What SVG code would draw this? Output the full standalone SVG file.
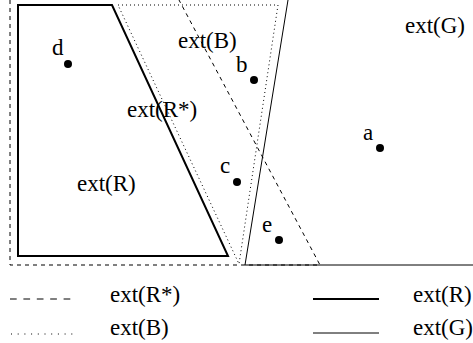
<svg xmlns="http://www.w3.org/2000/svg" width="473" height="343" viewBox="0 0 473 343">
<style>
text{font-family:"Liberation Serif","Times New Roman",serif;font-size:23px;fill:#000}
.thick{fill:none;stroke:#000;stroke-width:2}
.thin{fill:none;stroke:#000;stroke-width:1}
.dash{fill:none;stroke:#000;stroke-width:1;stroke-dasharray:4 4}
.dot{fill:none;stroke:#000;stroke-width:1;stroke-dasharray:1 3}
.pt{fill:#000}
</style>
<rect width="473" height="343" fill="#fff"/>
<g id="regions">
<path id="R" class="thick" d="M18,5 L112,5 L228,256 L18,256 Z"/>
<path id="Rstar" class="dash" d="M10,0 L10,265 L320,265 L179,0"/>
<path id="B" class="dot" d="M118,5 L278,5 L239,264 Z"/>
<path id="G" class="thin" d="M288,0 L245,265 L473,265"/>
</g>
<g id="points">
<circle class="pt" cx="68" cy="64" r="4"/>
<circle class="pt" cx="254" cy="80" r="4"/>
<circle class="pt" cx="237" cy="182" r="4"/>
<circle class="pt" cx="380" cy="148" r="4"/>
<circle class="pt" cx="279" cy="240" r="4"/>
</g>
<g id="labels">
<text x="52" y="55">d</text>
<text x="236" y="72">b</text>
<text x="220" y="173">c</text>
<text x="363" y="140">a</text>
<text x="262" y="232">e</text>
<text x="405" y="33">ext(G)</text>
<text x="178" y="48">ext(B)</text>
<text x="127" y="117">ext(R*)</text>
<text x="77" y="191">ext(R)</text>
</g>
<g id="legend">
<line class="dash" x1="10" y1="299" x2="72" y2="299" style="stroke-dasharray:6.7 6.7"/>
<text x="110" y="302">ext(R*)</text>
<line class="dot" x1="11" y1="334" x2="75" y2="334" style="stroke-dasharray:1 5.7"/>
<text x="110" y="335">ext(B)</text>
<line class="thick" x1="313" y1="299" x2="379" y2="299"/>
<text x="413" y="302">ext(R)</text>
<line class="thin" x1="313" y1="333" x2="379" y2="333"/>
<text x="413" y="335">ext(G)</text>
</g>
</svg>
